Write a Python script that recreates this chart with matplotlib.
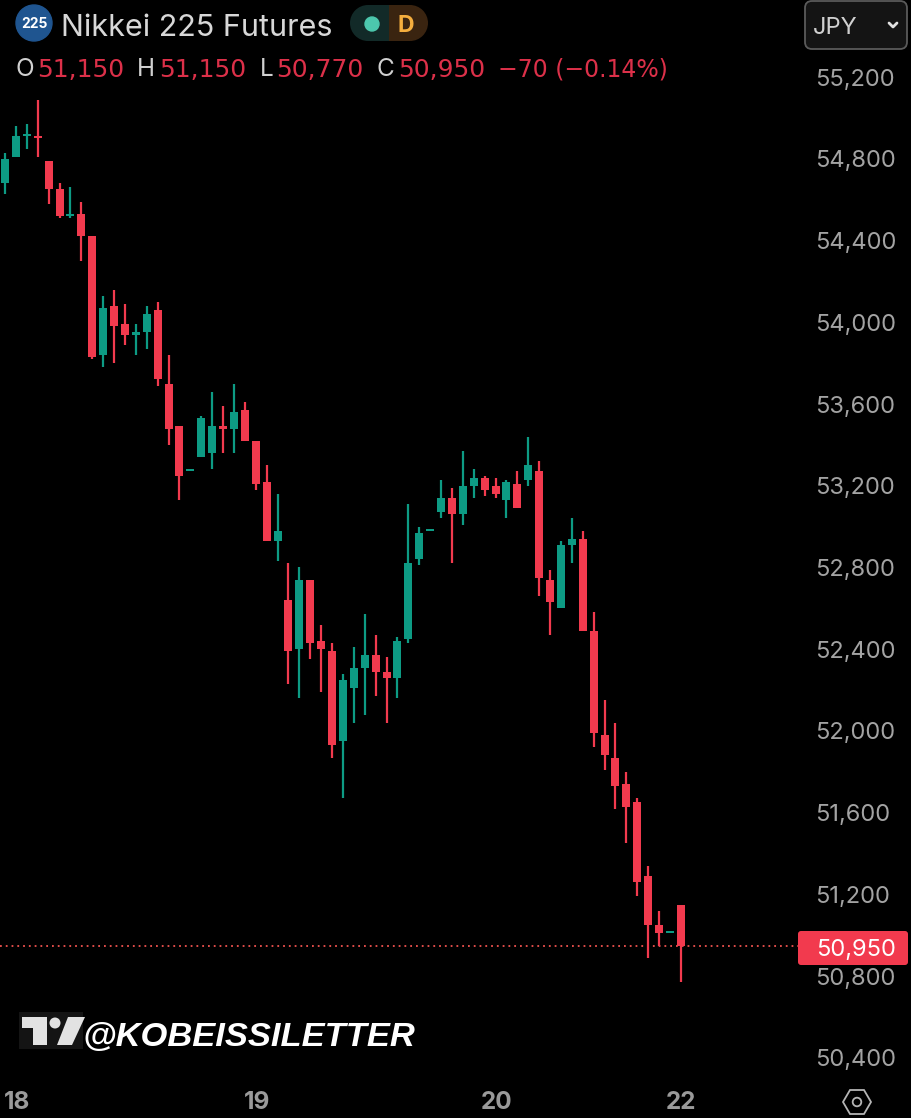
import matplotlib
matplotlib.use("Agg")
import matplotlib.pyplot as plt
from matplotlib.patches import Circle, FancyBboxPatch, Polygon, Rectangle, Wedge

title = "Nikkei 225 Futures"
opens = [54680,54810,54910,54910,54790,54650,54520,54530,54420,53840,54080,53990,53940,53950,54060,53700,
         53490,53270,53340,53360,53490,53480,53570,53420,53220,52930,52640,52400,52740,52440,52390,51950,
         52210,52310,52370,52290,52260,52450,52840,52980,53070,53140,53060,53200,53240,53200,53130,53210,
         53230,53270,52740,52600,52910,52940,52490,51980,51870,51740,51650,51290,51050,51010,51150]
highs = [54830,54960,54970,55090,54790,54680,54660,54590,54420,54130,54160,54090,53990,54080,54100,53840,
         53490,53280,53540,53660,53590,53700,53610,53420,53300,53160,52820,52800,52740,52520,52430,52280,
         52410,52570,52470,52360,52460,53110,53000,52990,53230,53190,53370,53280,53250,53240,53230,53270,
         53440,53320,52790,52930,53040,52980,52580,52150,52040,51800,51670,51340,51120,51020,51150]
lows = [54630,54810,54850,54810,54580,54510,54510,54300,53820,53780,53800,53890,53840,53870,53690,53400,
        53130,53270,53340,53280,53360,53360,53420,53180,52930,52830,52230,52160,52350,52190,51870,51670,
        52040,52080,52170,52040,52160,52430,52810,52980,53040,52820,53010,53140,53150,53140,53040,53090,
        53200,52660,52470,52600,52820,52490,51920,51810,51620,51450,51190,50890,50950,51010,50770]
closes = [54800,54910,54920,54900,54650,54520,54530,54420,53830,54070,53980,53940,53950,54040,53720,53480,
          53250,53280,53530,53490,53480,53560,53420,53210,52930,52980,52390,52740,52430,52400,51930,52250,
          52310,52370,52290,52260,52440,52820,52970,52990,53140,53060,53200,53240,53180,53160,53220,53090,
          53300,52750,52630,52910,52940,52490,51990,51880,51730,51630,51260,51050,51010,51020,50950]
price_ticks = [55200,54800,54400,54000,53600,53200,52800,52400,52000,51600,51200,50800,50400]
day_labels = ["18","19","20","22"]
day_positions = [1.1,23.1,45.1,62.0]
last_price = 50950

W, H = 912, 1118
RED, GREEN = "#f23a4e", "#0d9b84"
BODY_W = 8 / 10.9
plt.rcParams["font.family"] = ["Inter", "DejaVu Sans"]

fig = plt.figure(figsize=(W/100, H/100), dpi=100, facecolor="black")
ax = fig.add_axes([0, 0, 1, 1], facecolor="black")
ax.set_xlim(-0.459, 83.2)
ax.set_ylim(50106, 55577)

x = list(range(len(opens)))
colors = [GREEN if c >= o else RED for o, c in zip(opens, closes)]
ax.vlines(x, lows, highs, colors=colors, linewidth=1.6, zorder=3)
ax.bar(x, [max(abs(c-o), 8) for o, c in zip(opens, closes)],
       bottom=[min(o, c) for o, c in zip(opens, closes)],
       width=BODY_W, color=colors, linewidth=0, zorder=4)
ax.plot([-0.459, 72.8], [last_price, last_price], color="#f0524f", lw=1.3,
        linestyle=(0, (1, 2.2)), zorder=2)

for s in ax.spines.values():
    s.set_visible(False)
ax.yaxis.tick_right()
ax.set_yticks(price_ticks)
ax.set_yticklabels([f"{p:,}" for p in price_ticks])
ax.tick_params(axis="y", length=0, pad=-69.5, labelsize=17, labelcolor="#a3a3a3")
ax.set_xticks(day_positions)
ax.set_xticklabels(day_labels, fontweight="bold")
ax.tick_params(axis="x", length=0, pad=-19.5, labelsize=17.5, labelcolor="#9a9a9a")

# Overlay in pixel coordinates for the interface furniture
ov = fig.add_axes([0, 0, 1, 1], facecolor="none")
ov.set_xlim(0, W)
ov.set_ylim(H, 0)
ov.axis("off")

# header
ov.add_patch(Circle((34, 23), 18, color="#1f5590", zorder=5))
ov.text(34, 23.5, "225", color="white", fontsize=10, fontweight="bold", ha="center", va="center", zorder=6)
ov.text(61, 25, title, color="#d8d8d8", fontsize=22, ha="left", va="center_baseline")
ov.add_patch(Rectangle((368, 5), 21, 36, fc="#122a28", ec="none"))
ov.add_patch(Wedge((368, 23), 18, 90, 270, fc="#122a28", ec="none"))
ov.add_patch(Rectangle((389, 5), 21, 36, fc="#3a2410", ec="none"))
ov.add_patch(Wedge((410, 23), 18, -90, 90, fc="#3a2410", ec="none"))
ov.add_patch(Circle((372, 24), 7, color="#4cc7ad"))
ov.text(406, 24, "D", color="#f5ae3e", fontsize=16.5, fontweight="bold", ha="center", va="center_baseline")

label_parts = [(16, "O"), (137, "H"), (260, "L"), (377, "C")]
value_parts = [(37, "51,150"), (159, "51,150"), (276, "50,770"), (398, "50,950")]
for px, s in label_parts:
    ov.text(px, 67, s, color="#d0d0d0", fontsize=17.5, ha="left", va="center_baseline")
for px, s in value_parts:
    ov.text(px, 67, s, color="#dc3049", fontsize=18, family="DejaVu Sans", ha="left", va="center_baseline")
ov.text(498, 67, "−70 (−0.14%)", color="#dc3049", fontsize=17, family="DejaVu Sans", ha="left", va="center_baseline")

# currency box
ov.add_patch(FancyBboxPatch((805, 1), 102, 48, boxstyle="round,pad=0,rounding_size=7", fc="#141414", ec="#5a5a5a", lw=1.3))
ov.text(813, 25, "JPY", color="#d0d0d0", fontsize=17, ha="left", va="center_baseline")
ov.plot([889, 893, 897], [23, 27, 23], color="#e0e0e0", lw=2, solid_capstyle="round")

# last price tag
ov.add_patch(FancyBboxPatch((798, 931), 110, 34, boxstyle="round,pad=0,rounding_size=3", fc=RED, ec="none"))
ov.text(896, 947.5, f"{last_price:,}", color="white", fontsize=17, ha="right", va="center_baseline")

# settings hexagon
hex_pts = [(843, 1102), (850, 1090), (864, 1090), (871, 1102), (864, 1114), (850, 1114)]
ov.add_patch(Polygon(hex_pts, closed=True, fc="none", ec="#b5b5b5", lw=1.3))
ov.add_patch(Circle((857, 1102), 4.3, fc="none", ec="#b5b5b5", lw=1.3))

# TradingView logo and watermark
ov.add_patch(Rectangle((19, 1012), 64, 37, fc="#141414", ec="none"))
logo = "#e2e2e2"
ov.add_patch(Polygon([(22, 1017), (47, 1017), (47, 1045), (33, 1045), (33, 1028), (22, 1028)], closed=True, fc=logo, ec="none"))
ov.add_patch(Circle((55, 1023), 5.5, fc=logo, ec="none"))
ov.add_patch(Polygon([(68, 1017), (85, 1017), (72, 1045), (57, 1045)], closed=True, fc=logo, ec="none"))
ov.text(82, 1034, "@KOBEISSILETTER", color="white", fontsize=24.8, family="Liberation Sans",
        fontweight="bold", fontstyle="italic", ha="left", va="center_baseline")

fig.savefig("out.png", dpi=100, facecolor="black")
